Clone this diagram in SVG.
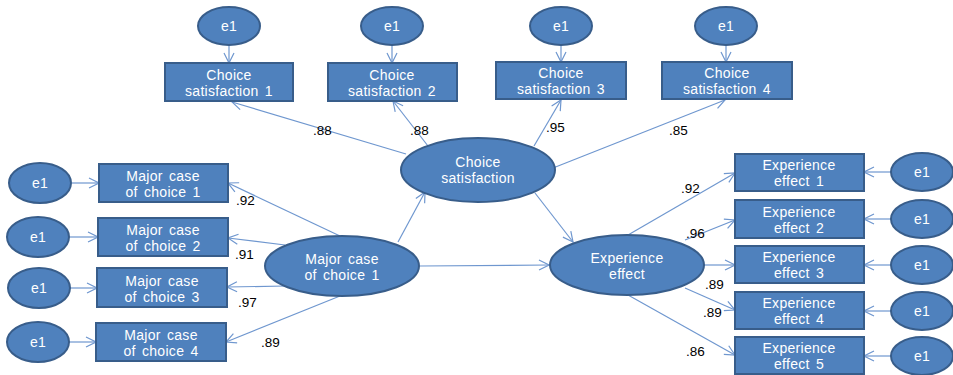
<svg xmlns="http://www.w3.org/2000/svg" width="953" height="375" viewBox="0 0 953 375">
<style>
.n{fill:#4F81BD;stroke:#385D8A;stroke-width:2}
.t{fill:#fff;font-family:"Liberation Sans",Arial,sans-serif;font-size:14px;text-anchor:middle;word-spacing:2px;letter-spacing:0.3px}
.l{fill:#000;font-family:"Liberation Sans",Arial,sans-serif;font-size:13.5px}
.c line{stroke:#6F97CF;stroke-width:1.2;fill:none;marker-end:url(#a)}
</style>
<defs>
<marker id="a" viewBox="0 0 12 12" refX="11" refY="6" markerWidth="12" markerHeight="12" markerUnits="userSpaceOnUse" orient="auto">
<path d="M1,1 L11,6 L1,11" fill="none" stroke="#6F97CF" stroke-width="1.2"/>
</marker>
</defs>
<rect width="953" height="375" fill="#fff"/>
<g class="c">
<line x1="229" y1="45" x2="229" y2="63"/>
<line x1="392" y1="45" x2="392" y2="63"/>
<line x1="561" y1="45" x2="561" y2="62"/>
<line x1="726" y1="45" x2="726" y2="62"/>
<line x1="72" y1="183" x2="99" y2="183"/>
<line x1="69" y1="237" x2="98" y2="237"/>
<line x1="70" y1="288" x2="97" y2="288"/>
<line x1="69" y1="342" x2="96" y2="342"/>
<line x1="891" y1="172" x2="864" y2="172"/>
<line x1="891" y1="219" x2="864" y2="219"/>
<line x1="891" y1="265" x2="864" y2="265"/>
<line x1="891" y1="311" x2="864" y2="311"/>
<line x1="891" y1="356" x2="864" y2="356"/>
<line x1="406" y1="154" x2="232" y2="102"/>
<line x1="428" y1="146" x2="393" y2="101"/>
<line x1="534" y1="146" x2="561" y2="100"/>
<line x1="553" y1="168" x2="725" y2="100"/>
<line x1="340" y1="236" x2="228" y2="183"/>
<line x1="285" y1="245" x2="228" y2="238"/>
<line x1="285" y1="286" x2="227" y2="287"/>
<line x1="340" y1="296" x2="226" y2="342"/>
<line x1="398" y1="242" x2="425" y2="192"/>
<line x1="420" y1="266" x2="549" y2="265"/>
<line x1="535" y1="193" x2="573" y2="242"/>
<line x1="628" y1="235" x2="735" y2="173"/>
<line x1="685" y1="240" x2="735" y2="220"/>
<line x1="704" y1="265" x2="735" y2="265"/>
<line x1="685" y1="288" x2="735" y2="310"/>
<line x1="628" y1="295" x2="735" y2="355"/>
</g>
<g id="e_cs1"><ellipse class="n" cx="229" cy="26" rx="31" ry="19"/><text class="t" x="229" y="31">e1</text></g>
<g id="e_cs2"><ellipse class="n" cx="392" cy="26" rx="31" ry="19"/><text class="t" x="392" y="31">e1</text></g>
<g id="e_cs3"><ellipse class="n" cx="561" cy="26" rx="31" ry="19"/><text class="t" x="561" y="31">e1</text></g>
<g id="e_cs4"><ellipse class="n" cx="726" cy="26" rx="31" ry="19"/><text class="t" x="726" y="31">e1</text></g>
<g id="cs1"><rect class="n" x="165" y="63" width="128" height="38"/><text class="t" x="229" y="80">Choice</text><text class="t" x="229" y="96">satisfaction 1</text></g>
<g id="cs2"><rect class="n" x="328" y="63" width="129" height="38"/><text class="t" x="392" y="80">Choice</text><text class="t" x="392" y="96">satisfaction 2</text></g>
<g id="cs3"><rect class="n" x="496" y="62" width="130" height="37"/><text class="t" x="561" y="78">Choice</text><text class="t" x="561" y="94">satisfaction 3</text></g>
<g id="cs4"><rect class="n" x="662" y="62" width="130" height="37"/><text class="t" x="727" y="78">Choice</text><text class="t" x="727" y="94">satisfaction 4</text></g>
<g id="cs"><ellipse class="n" cx="478" cy="170" rx="77" ry="32"/><text class="t" x="478" y="167">Choice</text><text class="t" x="478" y="183">satisfaction</text></g>
<g id="e_mc1"><ellipse class="n" cx="40" cy="183" rx="31" ry="20"/><text class="t" x="40" y="188">e1</text></g>
<g id="e_mc2"><ellipse class="n" cx="38" cy="237" rx="31" ry="20"/><text class="t" x="38" y="242">e1</text></g>
<g id="e_mc3"><ellipse class="n" cx="39" cy="288" rx="31" ry="20"/><text class="t" x="39" y="293">e1</text></g>
<g id="e_mc4"><ellipse class="n" cx="38" cy="342" rx="31" ry="20"/><text class="t" x="38" y="347">e1</text></g>
<g id="mc1"><rect class="n" x="99" y="164" width="129" height="38"/><text class="t" x="163" y="181">Major case</text><text class="t" x="163" y="197">of choice 1</text></g>
<g id="mc2"><rect class="n" x="98" y="218" width="130" height="38"/><text class="t" x="163" y="235">Major case</text><text class="t" x="163" y="251">of choice 2</text></g>
<g id="mc3"><rect class="n" x="97" y="268" width="130" height="39"/><text class="t" x="162" y="286">Major case</text><text class="t" x="162" y="302">of choice 3</text></g>
<g id="mc4"><rect class="n" x="96" y="323" width="130" height="38"/><text class="t" x="161" y="340">Major case</text><text class="t" x="161" y="356">of choice 4</text></g>
<g id="mc"><ellipse class="n" cx="342" cy="266" rx="77" ry="30"/><text class="t" x="342" y="264">Major case</text><text class="t" x="342" y="280">of choice 1</text></g>
<g id="ee"><ellipse class="n" cx="627" cy="265" rx="77" ry="30"/><text class="t" x="627" y="263">Experience</text><text class="t" x="627" y="279">effect</text></g>
<g id="ee1"><rect class="n" x="735" y="154" width="129" height="37"/><text class="t" x="799" y="170">Experience</text><text class="t" x="799" y="186">effect 1</text></g>
<g id="ee2"><rect class="n" x="735" y="200" width="129" height="38"/><text class="t" x="799" y="217">Experience</text><text class="t" x="799" y="233">effect 2</text></g>
<g id="ee3"><rect class="n" x="735" y="246" width="129" height="37"/><text class="t" x="799" y="262">Experience</text><text class="t" x="799" y="278">effect 3</text></g>
<g id="ee4"><rect class="n" x="735" y="292" width="129" height="37"/><text class="t" x="799" y="308">Experience</text><text class="t" x="799" y="324">effect 4</text></g>
<g id="ee5"><rect class="n" x="735" y="337" width="129" height="37"/><text class="t" x="799" y="353">Experience</text><text class="t" x="799" y="369">effect 5</text></g>
<g id="e_ee1"><ellipse class="n" cx="922" cy="172" rx="31" ry="19"/><text class="t" x="922" y="177">e1</text></g>
<g id="e_ee2"><ellipse class="n" cx="922" cy="219" rx="31" ry="19"/><text class="t" x="922" y="224">e1</text></g>
<g id="e_ee3"><ellipse class="n" cx="922" cy="265" rx="31" ry="19"/><text class="t" x="922" y="270">e1</text></g>
<g id="e_ee4"><ellipse class="n" cx="922" cy="311" rx="31" ry="19"/><text class="t" x="922" y="316">e1</text></g>
<g id="e_ee5"><ellipse class="n" cx="922" cy="356" rx="31" ry="19"/><text class="t" x="922" y="361">e1</text></g>
<g id="labels">
<text class="l" x="313" y="135">.88</text>
<text class="l" x="410" y="135">.88</text>
<text class="l" x="546" y="132">.95</text>
<text class="l" x="669" y="135">.85</text>
<text class="l" x="236" y="205">.92</text>
<text class="l" x="235" y="259">.91</text>
<text class="l" x="238" y="307">.97</text>
<text class="l" x="261" y="347">.89</text>
<text class="l" x="681" y="193">.92</text>
<text class="l" x="686" y="238">.96</text>
<text class="l" x="705" y="289">.89</text>
<text class="l" x="703" y="317">.89</text>
<text class="l" x="686" y="356">.86</text>
</g>
</svg>
